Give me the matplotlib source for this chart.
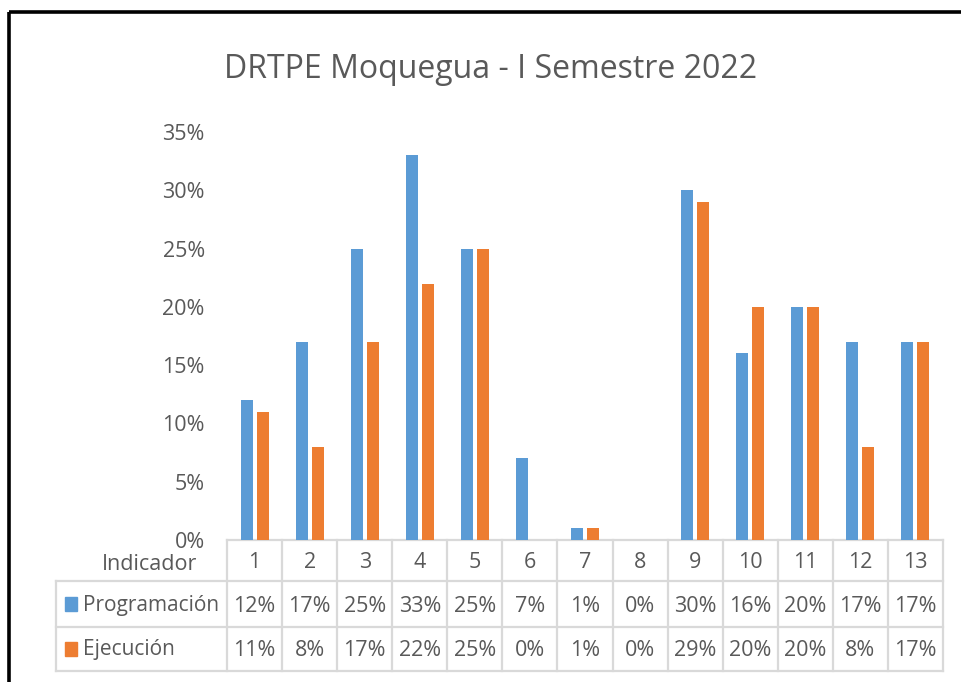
import numpy as np
import matplotlib.pyplot as plt
from matplotlib.ticker import PercentFormatter

plt.rcParams['font.family'] = ['Open Sans', 'DejaVu Sans']

# Data (percent)
indicadores = [str(i) for i in range(1, 14)]
programacion = [12, 17, 25, 33, 25, 7, 1, 0, 30, 16, 20, 17, 17]
ejecucion = [11, 8, 17, 22, 25, 0, 1, 0, 29, 20, 20, 8, 17]
series_names = ['Programación', 'Ejecución']
series_colors = ['#5B9BD5', '#ED7D31']
title = 'DRTPE Moquegua - I Semestre 2022'

TEXT_COLOR = '#595959'
GRID_COLOR = '#D9D9D9'
W, H = 961, 682

fig = plt.figure(figsize=(W / 100, H / 100), dpi=100)

# Background axes in pixel coordinates for the frame and the data table
bg = fig.add_axes([0, 0, 1, 1])
bg.set_xlim(0, W)
bg.set_ylim(H, 0)
bg.axis('off')

# black frame (top and left)
bg.plot([9, W], [11.5, 11.5], color='black', lw=2.6, solid_capstyle='butt')
bg.plot([9, 9], [11.5, H], color='black', lw=2.6, solid_capstyle='butt')

bg.text(491, 69, title, ha='center', va='center', fontsize=23, color=TEXT_COLOR)

# Plot area geometry (pixels)
x0, x1 = 227, 943
y_zero, y_top = 540, 132
n = len(indicadores)
col_w = (x1 - x0) / n

ax = fig.add_axes([x0 / W, 1 - y_zero / H, (x1 - x0) / W, (y_zero - y_top) / H])
ax.set_xlim(0, n)
ax.set_ylim(0, 35)
ax.patch.set_alpha(0)
for s in ax.spines.values():
    s.set_visible(False)

bar_w = 12 / col_w
offset = 8 / col_w
xs = np.arange(n) + 0.5
ax.bar(xs - offset, programacion, width=bar_w, color=series_colors[0])
ax.bar(xs + offset, ejecucion, width=bar_w, color=series_colors[1])

ax.set_yticks(np.arange(0, 36, 5))
ax.yaxis.set_major_formatter(PercentFormatter(decimals=0))
ax.tick_params(axis='y', length=0, pad=16, labelsize=15.5, labelcolor=TEXT_COLOR)
ax.set_xticks([])

# Data table
row_y = [540, 581, 627, 671]
label_x = 56
lw = 1.6
col_edges = [x0 + i * col_w for i in range(n + 1)]
bg.plot([x0, x1], [row_y[0], row_y[0]], color=GRID_COLOR, lw=lw)
for y in row_y[1:]:
    bg.plot([label_x, x1], [y, y], color=GRID_COLOR, lw=lw)
for xe in col_edges:
    bg.plot([xe, xe], [row_y[0], row_y[-1]], color=GRID_COLOR, lw=lw)
bg.plot([label_x, label_x], [row_y[1], row_y[-1]], color=GRID_COLOR, lw=lw)

cell_fs = 15.5
bg.text(197, 564, 'Indicador', ha='right', va='center', fontsize=cell_fs, color=TEXT_COLOR)
for i, lab in enumerate(indicadores):
    cx = x0 + (i + 0.5) * col_w
    bg.text(cx, 562, lab, ha='center', va='center', fontsize=cell_fs, color=TEXT_COLOR)
    bg.text(cx, 606, f'{programacion[i]}%', ha='center', va='center', fontsize=cell_fs, color=TEXT_COLOR)
    bg.text(cx, 650, f'{ejecucion[i]}%', ha='center', va='center', fontsize=cell_fs, color=TEXT_COLOR)

for name, color, yc in zip(series_names, series_colors, [604, 649]):
    bg.add_patch(plt.Rectangle((65, yc - 7), 12, 14, color=color))
    bg.text(83, yc + 1, name, ha='left', va='center', fontsize=15, color=TEXT_COLOR)

fig.savefig('out.png', dpi=100)
